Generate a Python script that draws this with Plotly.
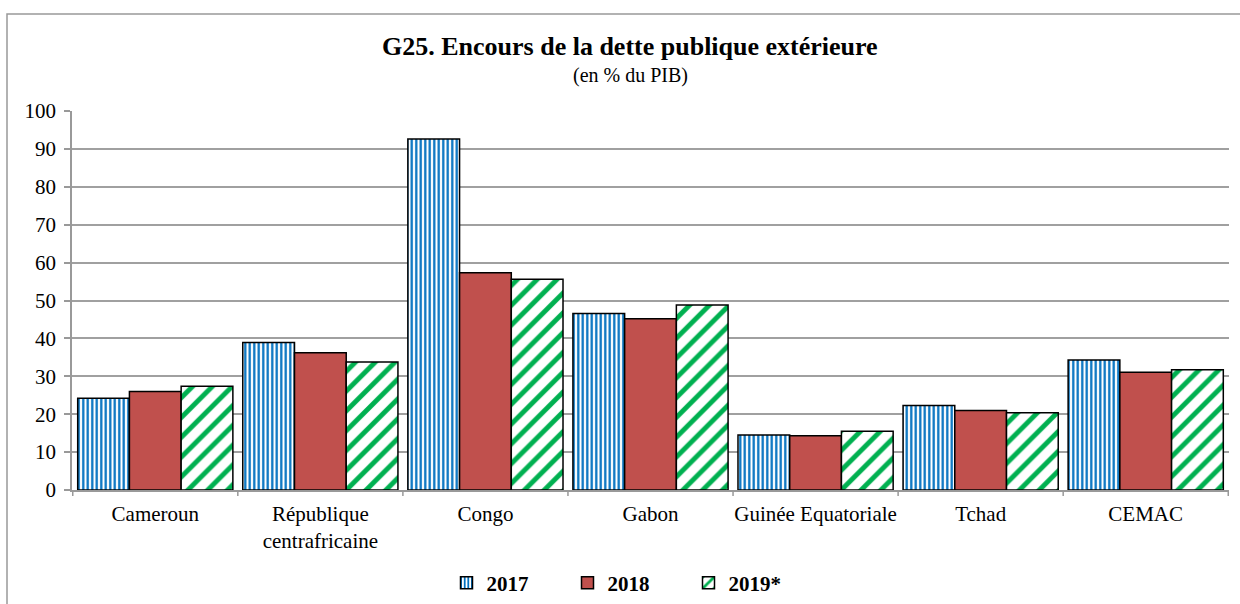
import plotly.graph_objects as go

categories = ["Cameroun", "République<br>centrafricaine", "Congo", "Gabon",
              "Guinée Equatoriale", "Tchad", "CEMAC"]
series_names = ["2017", "2018", "2019*"]
v2017 = [24.2, 38.9, 92.6, 46.6, 14.5, 22.3, 34.3]
v2018 = [26.0, 36.2, 57.3, 45.2, 14.3, 21.0, 31.1]
v2019 = [27.4, 33.8, 55.6, 48.8, 15.5, 20.4, 31.7]
y_ticks = [0, 10, 20, 30, 40, 50, 60, 70, 80, 90, 100]

FONT = "Liberation Serif, Times New Roman, serif"
L, R, T, B = 72, 11, 111, 114
W, H = 1240, 604
pw, ph = W - L - R, H - T - B

def px_x(x):
    return (x - L) / pw

def px_y(y):
    return (H - B - y) / ph

fig = go.Figure()
fig.add_trace(go.Bar(
    name=series_names[0], x=categories, y=v2017,
    marker=dict(color="white", line=dict(color="black", width=1.5),
                pattern=dict(shape="|", fgcolor="#0070C0", bgcolor="#FFFFFF",
                             fgopacity=1, size=4.5, solidity=0.5,
                             fillmode="replace")),
))
fig.add_trace(go.Bar(
    name=series_names[1], x=categories, y=v2018,
    marker=dict(color="#C0504D", line=dict(color="black", width=1.5)),
))
fig.add_trace(go.Bar(
    name=series_names[2], x=categories, y=v2019,
    marker=dict(color="white", line=dict(color="black", width=1.5),
                pattern=dict(shape="/", fgcolor="#00B050", bgcolor="#FFFFFF",
                             fgopacity=1, size=14, solidity=0.35,
                             fillmode="replace")),
))

fig.update_layout(
    width=W, height=H,
    margin=dict(l=L, r=R, t=T, b=B, autoexpand=False),
    paper_bgcolor="white", plot_bgcolor="white",
    barmode="group", bargap=0.06, bargroupgap=0,
    font=dict(family=FONT, size=21, color="black"),
    showlegend=True,
    legend=dict(orientation="h", x=px_x(628), xanchor="center",
                y=px_y(583), yanchor="middle",
                font=dict(family=FONT, size=21, color="black", weight="bold"),
                entrywidth=76, itemwidth=30, bgcolor="rgba(0,0,0,0)"),
    xaxis=dict(showline=True, linecolor="#999999", linewidth=1.5,
               ticks="", showgrid=False, tickfont=dict(size=21),
               ticklabelstandoff=4, fixedrange=True),
    yaxis=dict(range=[0, 100], tickvals=y_ticks, showline=True,
               linecolor="#999999", linewidth=1.5, ticks="outside",
               ticklen=6, tickcolor="#999999", tickwidth=1.5,
               showgrid=True, gridcolor="#A0A0A0", gridwidth=1.5,
               zeroline=False, tickfont=dict(size=21),
               ticklabelstandoff=4, fixedrange=True),
)

# category boundary tick marks on x axis
for i in range(len(categories) + 1):
    xb = i - 0.5
    fig.add_shape(type="line", xref="x", yref="paper", x0=xb, x1=xb,
                  y0=0, y1=-6 / ph, line=dict(color="#999999", width=1.5))

# outer chart frame
fig.add_shape(type="rect", xref="paper", yref="paper",
              x0=px_x(7), x1=px_x(1260), y0=px_y(630), y1=px_y(14),
              line=dict(color="#999999", width=1.5), layer="below")

fig.add_annotation(text="<b>G25. Encours de la dette publique extérieure</b>",
                   xref="paper", yref="paper", x=px_x(630), y=px_y(63),
                   xanchor="center", yanchor="bottom", showarrow=False,
                   font=dict(family=FONT, size=26, color="black"))
fig.add_annotation(text="(en % du PIB)",
                   xref="paper", yref="paper", x=px_x(630), y=px_y(62),
                   xanchor="center", yanchor="top", showarrow=False,
                   font=dict(family=FONT, size=20, color="black"))

fig.write_html("out.html",
               config={"displayModeBar": False},
               post_script="document.body.style.margin='0px';"
                           "document.body.style.overflow='hidden';")
